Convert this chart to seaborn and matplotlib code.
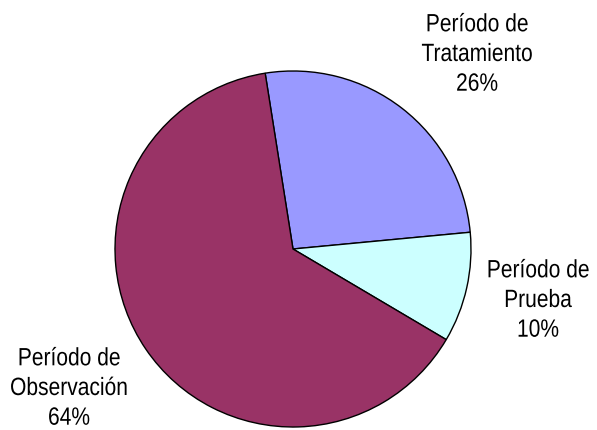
import matplotlib
matplotlib.use("Agg")
import matplotlib.pyplot as plt
from matplotlib import patheffects
from matplotlib.transforms import Affine2D
import seaborn as sns

# Data
categories = ["Período de\nTratamiento", "Período de\nPrueba", "Período de\nObservación"]
shares = [26, 10, 64]
colors = ["#9999FF", "#CCFFFF", "#993366"]

# label centres in pixels from the top-left corner
label_xy = [(477, 54), (538, 300), (69, 388)]


class Squeeze(patheffects.AbstractPathEffect):
    """Narrow the glyphs horizontally around a given x (Arial Narrow look)."""

    def __init__(self, cx, sx=0.84):
        super().__init__()
        self.cx = cx
        self.sx = sx

    def draw_path(self, renderer, gc, tpath, affine, rgbFace=None):
        squeeze = Affine2D().translate(-self.cx, 0).scale(self.sx, 1).translate(self.cx, 0)
        renderer.draw_path(gc, tpath, affine + squeeze, rgbFace)


sns.set_style("white")
plt.rcParams["font.family"] = ["Liberation Sans", "DejaVu Sans"]

fig = plt.figure(figsize=(5.97, 4.30), dpi=100)
ax = fig.add_axes([0, 0, 1, 1])

labels = [f"{c}\n{v}%" for c, v in zip(categories, shares)]
wedges, texts = ax.pie(
    shares,
    labels=labels,
    colors=colors,
    startangle=99,
    counterclock=False,
    radius=178,
    center=(293, 430 - 249),
    wedgeprops=dict(edgecolor="black", linewidth=1.0),
    textprops=dict(fontsize=18, linespacing=1.3, color="black"),
)
ax.set_xlim(0, 597)
ax.set_ylim(0, 430)
ax.set_aspect("equal")
ax.axis("off")

for t, (x, y) in zip(texts, label_xy):
    t.set_position((x, 430 - y))
    t.set_ha("center")
    t.set_va("center")
    cx = ax.transData.transform((x, 430 - y))[0]
    t.set_path_effects([Squeeze(cx)])

fig.savefig("out.png", dpi=100)
